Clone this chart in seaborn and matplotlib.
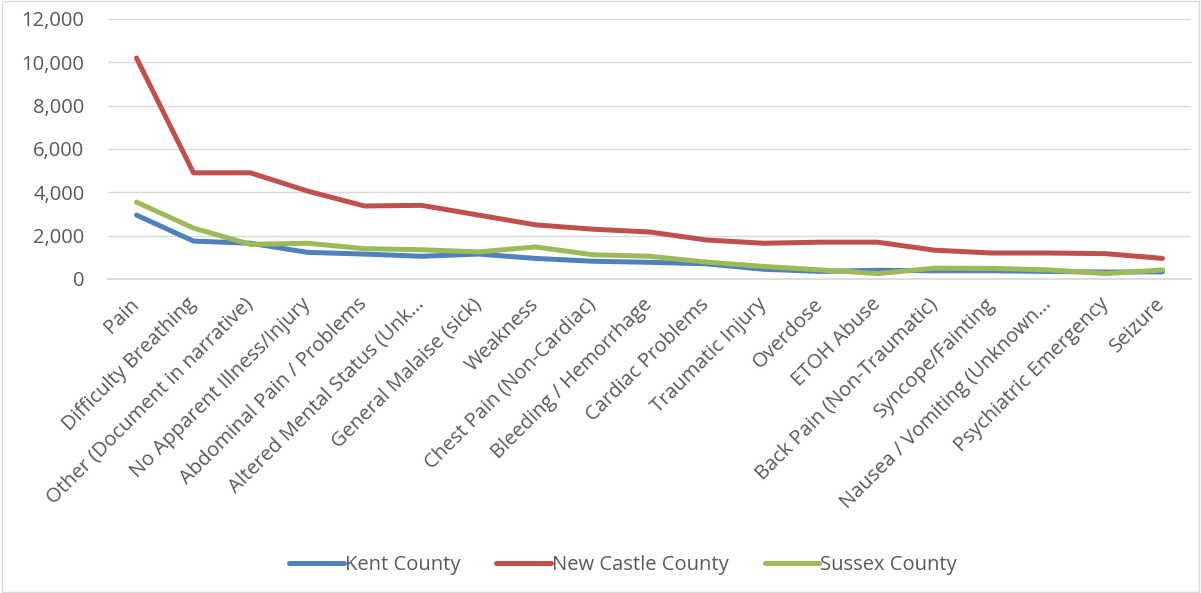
import numpy as np
import pandas as pd
import matplotlib
matplotlib.use("Agg")
import matplotlib.pyplot as plt
import seaborn as sns
from matplotlib.ticker import FuncFormatter

categories = ["Pain", "Difficulty Breathing", "Other (Document in narrative)",
              "No Apparent Illness/Injury", "Abdominal Pain / Problems",
              "Altered Mental Status (Unk…", "General Malaise (sick)", "Weakness",
              "Chest Pain (Non-Cardiac)", "Bleeding / Hemorrhage", "Cardiac Problems",
              "Traumatic Injury", "Overdose", "ETOH Abuse", "Back Pain (Non-Traumatic)",
              "Syncope/Fainting", "Nausea / Vomiting (Unknown…", "Psychiatric Emergency",
              "Seizure"]
kent = [2950, 1750, 1650, 1230, 1150, 1050, 1150, 950, 820, 770, 700, 450, 350, 400, 380, 380, 350, 320, 330]
new_castle = [10200, 4900, 4900, 4060, 3370, 3400, 2950, 2500, 2300, 2170, 1800, 1650, 1700, 1700, 1330, 1200, 1200, 1170, 950]
sussex = [3550, 2350, 1600, 1650, 1400, 1350, 1250, 1480, 1120, 1050, 780, 580, 420, 250, 500, 490, 420, 250, 420]
series_names = ["Kent County", "New Castle County", "Sussex County"]
colors = ["#4F81BD", "#C0504D", "#9BBB59"]

df = pd.DataFrame({
    "idx": list(range(len(categories))) * 3,
    "value": kent + new_castle + sussex,
    "series": sum([[s] * len(categories) for s in series_names], []),
})

sns.set_theme(style="white")
plt.rcParams['font.family'] = ['Open Sans', 'DejaVu Sans']
txt = "#595959"
fs = 14.5

fig = plt.figure(figsize=(12.01, 5.93), dpi=100)
ax = fig.add_axes([108/1201, 1 - 279/593, (1191-108)/1201, (279-19)/593])
sns.lineplot(data=df, x="idx", y="value", hue="series", palette=colors,
             linewidth=3.6, ax=ax, legend=True)
for ln in ax.get_lines():
    ln.set_solid_capstyle("round")
    ln.set_solid_joinstyle("round")
ax.set_xlim(-0.5, len(categories) - 0.5)
ax.set_ylim(0, 12000)
ax.set_yticks(np.arange(0, 12001, 2000))
ax.yaxis.set_major_formatter(FuncFormatter(lambda v, p: f"{int(v):,}"))
ax.set_xticks(range(len(categories)))
ax.set_xticklabels(categories, rotation=45, ha="right", va="center",
                   rotation_mode="anchor")
ax.tick_params(axis="both", colors=txt, labelsize=fs, length=0)
ax.tick_params(axis="x", pad=16)
ax.tick_params(axis="y", pad=17)
ax.grid(axis="y", color="#D9D9D9", linewidth=1)
for s in ["top", "right", "left"]:
    ax.spines[s].set_visible(False)
ax.spines["bottom"].set_color("#D9D9D9")
ax.set_xlabel("")
ax.set_ylabel("")

handles, labels = ax.get_legend_handles_labels()
ax.legend_.remove()
fig.legend(handles, labels, loc="center", bbox_to_anchor=(623/1201, 1 - 565/593), ncol=3,
           frameon=False, fontsize=fs, labelcolor=txt, handlelength=2.7,
           handletextpad=0.05, columnspacing=1.8)

# outer chart border
fig.patches.append(plt.Rectangle((0.002, 0.002), 0.996, 0.996, transform=fig.transFigure,
                                 fill=False, edgecolor="#D9D9D9", linewidth=1))

fig.savefig("out.png", dpi=100)
